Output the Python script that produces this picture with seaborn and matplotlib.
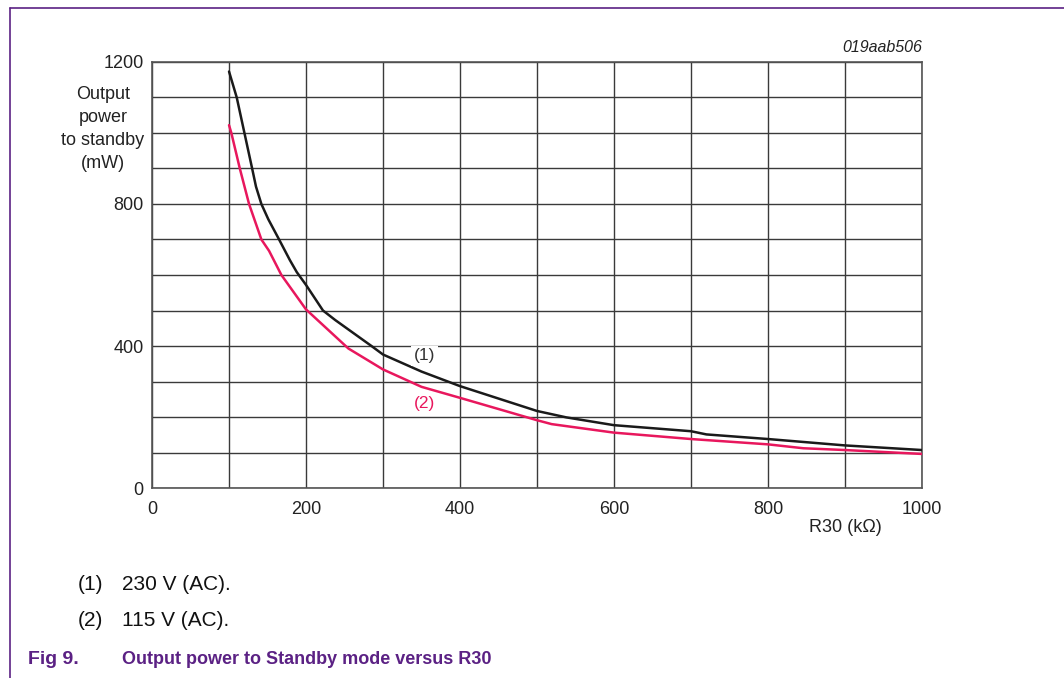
import pandas as pd
import matplotlib.pyplot as plt
import seaborn as sns
from matplotlib.lines import Line2D

# Curve (1): 230 V (AC)
r30_230 = [100, 110, 120, 130, 135, 142, 151, 165, 179, 188, 200, 222, 238, 285,
           300, 350, 400, 500, 538, 600, 700, 720, 800, 900, 1000]
p_230 = [1173, 1100, 1000, 900, 849, 800, 757, 700, 642, 608, 572, 500, 473, 400,
         376, 328, 287, 217, 199, 177, 160, 151, 138, 120, 107]

# Curve (2): 115 V (AC)
r30_115 = [100, 103, 114, 126, 142, 152, 168, 200, 255, 300, 350, 400, 500,
           519, 600, 700, 800, 846, 900, 1000]
p_115 = [1022, 1000, 900, 800, 700, 668, 600, 503, 393, 334, 285, 254, 191,
         180, 156, 138, 123, 112, 107, 96]

x_ticks = [0, 200, 400, 600, 800, 1000]
y_ticks = [0, 400, 800, 1200]

df = pd.concat([
    pd.DataFrame({'R30': r30_230, 'power': p_230, 'curve': '(1)'}),
    pd.DataFrame({'R30': r30_115, 'power': p_115, 'curve': '(2)'}),
], ignore_index=True)

sns.set_style('white')
plt.rcParams['font.family'] = ['Liberation Sans', 'DejaVu Sans']

purple = '#5B2184'
red = '#E8175D'

fig = plt.figure(figsize=(10.64, 6.78), dpi=100)
ax = fig.add_axes([0.1429, 0.2802, 0.7236, 0.6284])

sns.lineplot(data=df, x='R30', y='power', hue='curve', sort=False,
             palette={'(1)': '#1a1a1a', '(2)': red}, linewidth=1.8,
             legend=False, ax=ax, zorder=3)

ax.set_xlim(0, 1000)
ax.set_ylim(0, 1200)
ax.set_xticks(range(0, 1001, 100))
ax.set_yticks(range(0, 1201, 100))
ax.set_xticklabels([str(v) if v in x_ticks else '' for v in range(0, 1001, 100)])
ax.set_yticklabels([str(v) if v in y_ticks else '' for v in range(0, 1201, 100)])
ax.tick_params(axis='y', length=0, labelsize=13, colors='#222222', pad=6)
ax.tick_params(axis='x', length=0, labelsize=13, colors='#222222', pad=9)
ax.grid(True, color='#3a3a3a', linewidth=1.0)
for s in ax.spines.values():
    s.set_color('#555555')
    s.set_linewidth(1.2)
ax.set_xlabel('')
ax.set_ylabel('')

ax.text(354, 372, '(1)', fontsize=12.5, color='#333333', ha='center', va='center',
        bbox=dict(facecolor='white', edgecolor='none', pad=2), zorder=4)
ax.text(354, 238, '(2)', fontsize=12.5, color=red, ha='center', va='center', zorder=4)

fig.text(103 / 1064, 1 - 129 / 678, 'Output\npower\nto standby\n(mW)', fontsize=13,
         ha='center', va='center', linespacing=1.47, color='#222222')
fig.text(845 / 1064, 1 - 528 / 678, 'R30 (k\u03a9)', fontsize=13, ha='center',
         va='center', color='#222222')
fig.text(922 / 1064, 1 - 47 / 678, '019aab506', fontsize=11.5, style='italic',
         ha='right', va='center', color='#222222')

fig.text(78 / 1064, 1 - 584 / 678, '(1)', fontsize=15, va='center', color='#111111')
fig.text(122 / 1064, 1 - 584 / 678, '230 V (AC).', fontsize=15, va='center', color='#111111')
fig.text(78 / 1064, 1 - 620 / 678, '(2)', fontsize=15, va='center', color='#111111')
fig.text(122 / 1064, 1 - 620 / 678, '115 V (AC).', fontsize=15, va='center', color='#111111')
fig.text(28 / 1064, 1 - 659 / 678, 'Fig 9.', fontsize=14, fontweight='bold',
         va='center', color=purple)
fig.text(122 / 1064, 1 - 659 / 678, 'Output power to Standby mode versus R30', fontsize=13,
         fontweight='bold', va='center', color=purple)

# page frame
fig.add_artist(Line2D([10 / 1064, 1], [1 - 8 / 678, 1 - 8 / 678], color=purple, lw=1.2))
fig.add_artist(Line2D([10 / 1064, 10 / 1064], [0, 1 - 8 / 678], color=purple, lw=1.2))

fig.savefig('out.png', dpi=100)
